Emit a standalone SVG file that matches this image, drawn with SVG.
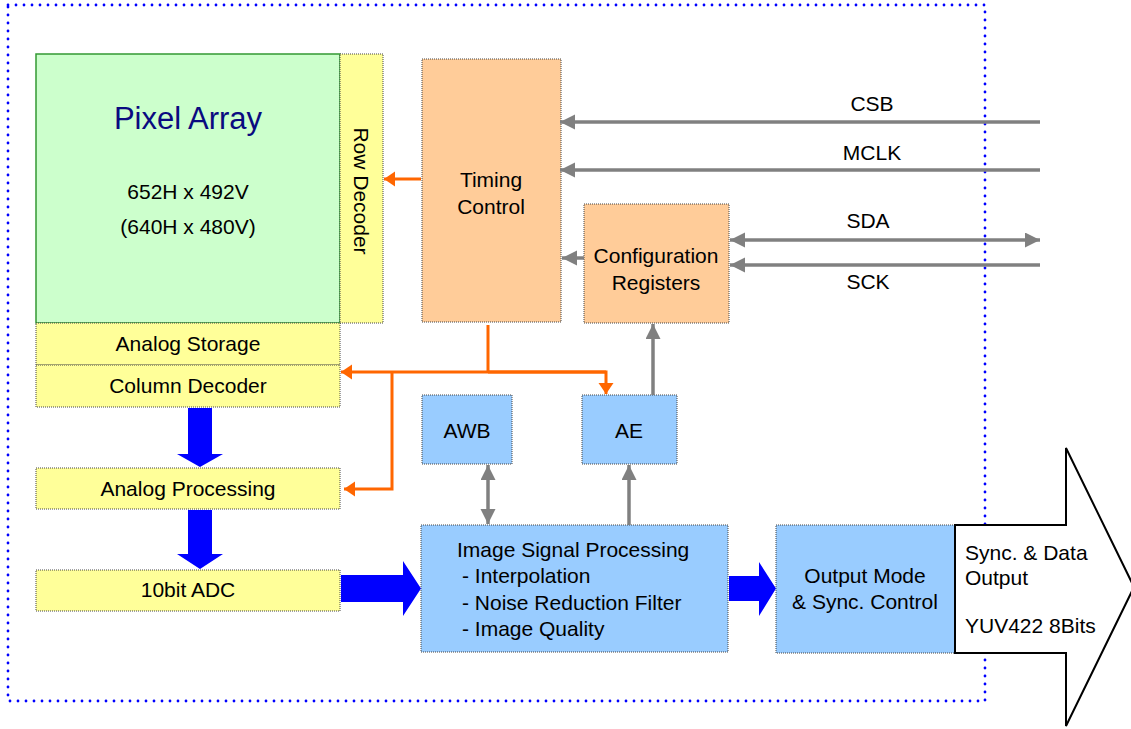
<svg xmlns="http://www.w3.org/2000/svg" width="1131" height="729" viewBox="0 0 1131 729">
<style>
text{font-family:"Liberation Sans",Arial,sans-serif;font-size:21px;fill:#000}
.m{text-anchor:middle}
.box{stroke:#444;stroke-width:1;stroke-dasharray:1 1}
.y{fill:#FFFF99}
.o{fill:#FFCC99}
.b{fill:#99CCFF}
.g{stroke:#808080;stroke-width:3.5;fill:none}
.or{stroke:#FF6600;stroke-width:3;fill:none}
.blue{fill:#0000FF}
</style>
<defs>
<marker id="ga" markerUnits="userSpaceOnUse" markerWidth="16" markerHeight="16" refX="15" refY="7.5" orient="auto-start-reverse" viewBox="0 0 16 16">
<path d="M0,0 L15,7.5 L0,15 z" fill="#808080"/>
</marker>
<marker id="oa" markerUnits="userSpaceOnUse" markerWidth="12" markerHeight="16" refX="11" refY="7.5" orient="auto" viewBox="0 0 12 16">
<path d="M0,0 L11,7.5 L0,15 z" fill="#FF6600"/>
</marker>
</defs>
<rect id="border" x="8" y="5" width="977" height="696" fill="none" stroke="#0000FF" stroke-width="2.8" stroke-dasharray="0 8" stroke-linecap="round"/>

<g id="pixel-array">
<rect x="36" y="54" width="304" height="269" fill="#CCFFCC" stroke="#339933" stroke-width="1.5"/>
<text x="188" y="129" class="m" style="font-size:31px;fill:#0A0A80">Pixel Array</text>
<text x="188" y="199" class="m">652H x 492V</text>
<text x="188" y="234" class="m">(640H x 480V)</text>
</g>
<g id="row-decoder">
<rect x="340" y="54" width="43" height="269" class="box y"/>
<text transform="translate(354,191) rotate(90)" class="m">Row Decoder</text>
</g>
<g id="analog-storage">
<rect x="36" y="323" width="304" height="42" class="box y"/>
<text x="188" y="351" class="m">Analog Storage</text>
</g>
<g id="column-decoder">
<rect x="36" y="365" width="304" height="42" class="box y"/>
<text x="188" y="393" class="m">Column Decoder</text>
</g>
<g id="analog-processing">
<rect x="36" y="468" width="304" height="41" class="box y"/>
<text x="188" y="496" class="m">Analog Processing</text>
</g>
<g id="adc">
<rect x="36" y="570" width="304" height="41" class="box y"/>
<text x="188" y="597" class="m">10bit ADC</text>
</g>
<g id="timing-control">
<rect x="422" y="59" width="139" height="263" class="box o"/>
<text x="491" y="187" class="m">Timing</text>
<text x="491" y="214" class="m">Control</text>
</g>
<g id="config-registers">
<rect x="584" y="204" width="145" height="119" class="box o"/>
<text x="656" y="263" class="m">Configuration</text>
<text x="656" y="290" class="m">Registers</text>
</g>
<g id="awb">
<rect x="422" y="395" width="90" height="69" class="box b"/>
<text x="467" y="438" class="m">AWB</text>
</g>
<g id="ae">
<rect x="582" y="395" width="95" height="69" class="box b"/>
<text x="629" y="438" class="m">AE</text>
</g>
<g id="isp">
<rect x="421" y="525" width="307" height="127" class="box b"/>
<text x="457" y="557">Image Signal Processing</text>
<text x="462" y="583">- Interpolation</text>
<text x="462" y="610">- Noise Reduction Filter</text>
<text x="462" y="636">- Image Quality</text>
</g>
<g id="output-mode">
<rect x="776" y="525" width="179" height="128" class="box b"/>
<text x="865" y="583" class="m">Output Mode</text>
<text x="865" y="609" class="m">&amp; Sync. Control</text>
</g>
<g id="output-arrow">
<polygon points="955,525 1066,525 1066,448 1134,587 1066,726 1066,653 955,653" fill="#FFFFFF" stroke="#000" stroke-width="2"/>
<text x="965" y="560">Sync. &amp; Data</text>
<text x="965" y="585">Output</text>
<text x="965" y="633">YUV422 8Bits</text>
</g>

<g id="connectors">
<polygon class="blue" points="188,408 212,408 212,454 223,454 200,467 177,454 188,454"/>
<polygon class="blue" points="188,510 212,510 212,554 223,554 200,569 177,554 188,554"/>
<polygon class="blue" points="341,575 403,575 403,561 421,588.5 403,616 403,602 341,602"/>
<polygon class="blue" points="729,576 759,576 759,562 776,588.5 759,616 759,601 729,601"/>

<line x1="1040" y1="122" x2="560" y2="122" class="g" marker-end="url(#ga)"/>
<line x1="1040" y1="170" x2="560" y2="170" class="g" marker-end="url(#ga)"/>
<line x1="1040" y1="240" x2="730" y2="240" class="g" marker-start="url(#ga)" marker-end="url(#ga)"/>
<line x1="1040" y1="265" x2="730" y2="265" class="g" marker-end="url(#ga)"/>
<line x1="584" y1="258" x2="562" y2="258" class="g" marker-end="url(#ga)"/>
<line x1="488" y1="465" x2="488" y2="524" class="g" marker-start="url(#ga)" marker-end="url(#ga)"/>
<line x1="629" y1="525" x2="629" y2="465" class="g" marker-end="url(#ga)"/>
<line x1="653" y1="395" x2="653" y2="324" class="g" marker-end="url(#ga)"/>

<line x1="421" y1="179" x2="384" y2="179" class="or" marker-end="url(#oa)"/>
<line x1="488" y1="325" x2="488" y2="372" class="or"/>
<polyline points="606,372 341,372" class="or" marker-end="url(#oa)"/>
<polyline points="488,372 606,372 606,394" class="or" marker-end="url(#oa)"/>
<polyline points="392,372 392,489 344,489" class="or" marker-end="url(#oa)"/>

<text x="872" y="111" class="m">CSB</text>
<text x="872" y="160" class="m">MCLK</text>
<text x="868" y="228" class="m">SDA</text>
<text x="868" y="289" class="m">SCK</text>
</g>
</svg>
